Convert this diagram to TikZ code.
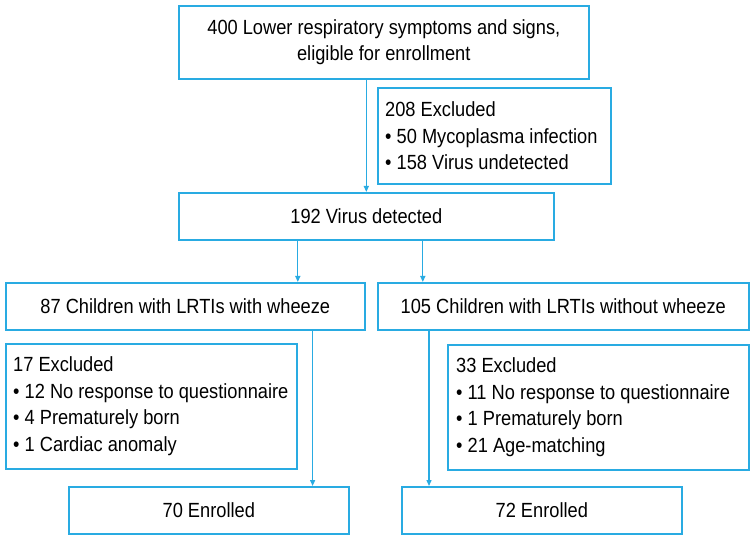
\documentclass[tikz,border=0pt]{standalone}
\usepackage{fontspec}
\setmainfont{Liberation Sans}[FakeStretch=0.89]
\usetikzlibrary{positioning,arrows.meta}
\definecolor{flowblue}{RGB}{41,171,226}
\tikzset{
  box/.style={draw=flowblue, line width=1.6pt, inner sep=0pt, align=center,
    anchor=north west, font=\fontsize{20.5}{26.7}\selectfont},
  boxtext/.style={inner sep=0pt, align=left, anchor=west,
    font=\fontsize{20.5}{26.7}\selectfont},
  arr/.style={draw=flowblue, line width=1.3pt, -{Triangle[length=6pt,width=5pt]}}
}
\begin{document}
\begin{tikzpicture}[x=1pt,y=-1pt]
    \useasboundingbox (0,0) rectangle (752,537);
    % main path
    \node[box, minimum width=410pt, minimum height=73pt] (elig) at (178,5)
        {400 Lower respiratory symptoms and signs,\\eligible for enrollment};
    \node[box, minimum width=375pt, minimum height=47pt] (virus) at (178,192) {192 Virus detected};
    \node[box, minimum width=359pt, minimum height=47pt] (wz) at (5,282) {87 Children with LRTIs with wheeze};
    \node[box, minimum width=371pt, minimum height=47pt] (nwz) at (377,282) {105 Children with LRTIs without wheeze};
    \node[box, minimum width=280pt, minimum height=47pt] (enrA) at (68,486) {70 Enrolled};
    \node[box, minimum width=280pt, minimum height=47pt] (enrB) at (401,486) {72 Enrolled};

    % exclusion boxes
    \node[box, minimum width=233pt, minimum height=96pt] (exA) at (377,87) {};
    \node[boxtext] (exAt) at ([xshift=8pt]exA.west)
        {208 Excluded\\\textbullet\ 50 Mycoplasma infection\\\textbullet\ 158 Virus undetected};
    \node[box, minimum width=291pt, minimum height=125pt] (exB) at (5,343) {};
    \node[boxtext] (exBt) at ([xshift=8pt]exB.west)
        {17 Excluded\\\textbullet\ 12 No response to questionnaire\\\textbullet\ 4 Prematurely born\\\textbullet\ 1 Cardiac anomaly};
    \node[box, minimum width=301pt, minimum height=125pt] (exC) at (447,344) {};
    \node[boxtext] (exCt) at ([xshift=9pt]exC.west)
        {33 Excluded\\\textbullet\ 11 No response to questionnaire\\\textbullet\ 1 Prematurely born\\\textbullet\ 21 Age-matching};

    % arrows
    \draw[arr] (virus.north |- elig.south) -- (virus.north);
    \draw[arr] ([xshift=-68.5pt]virus.south) -- ([xshift=-68.5pt]virus.south |- wz.north);
    \draw[arr] ([xshift=56.5pt]virus.south) -- ([xshift=56.5pt]virus.south |- nwz.north);
    \draw[arr] ([xshift=-37pt]enrA.north east |- wz.south) -- ([xshift=-37pt]enrA.north east);
    \draw[arr] ([xshift=28pt]enrB.north west |- nwz.south) -- ([xshift=28pt]enrB.north west);
\end{tikzpicture}
\end{document}
